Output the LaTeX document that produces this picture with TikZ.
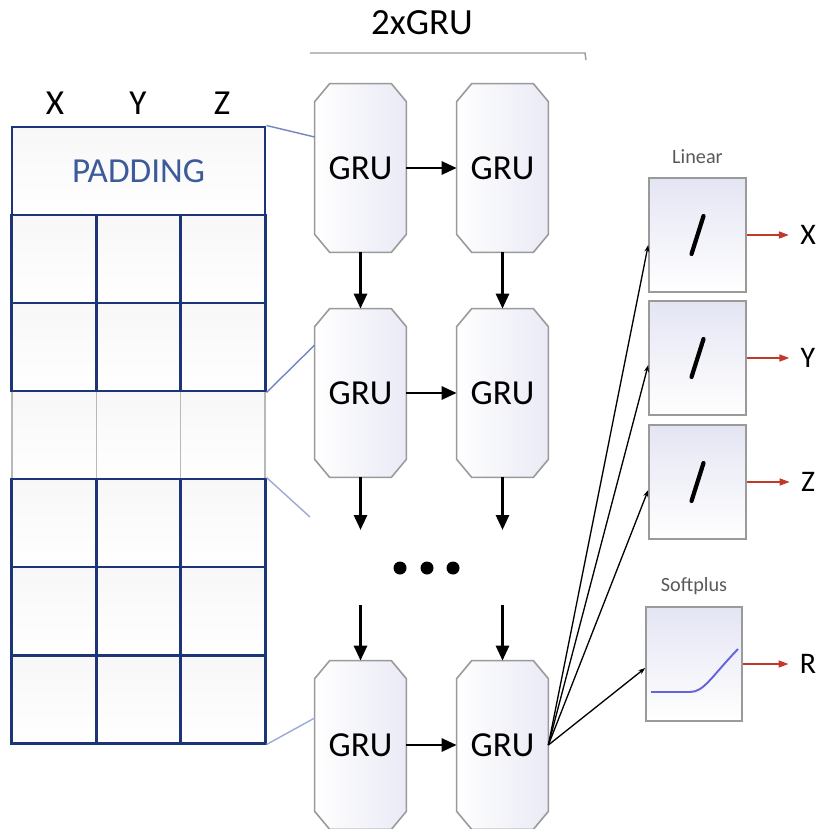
\documentclass[tikz,border=0pt]{standalone}
\usepackage{fontspec}
\setmainfont{Carlito}
\usetikzlibrary{arrows.meta,positioning,backgrounds}
\definecolor{gridblue}{HTML}{1C3578}
\definecolor{padblue}{HTML}{3D5A99}
\definecolor{zoomblue}{HTML}{7384C4}
\definecolor{boxline}{HTML}{9A9A9A}
\definecolor{boxtint}{HTML}{E4E5F3}
\definecolor{outred}{HTML}{C0392B}
\definecolor{curveblue}{HTML}{6464DC}

\begin{document}
\begin{tikzpicture}[
  cell/.style={draw=gridblue,line width=1.7pt,minimum width=1.687cm,minimum height=1.76cm,inner sep=0pt,top color=blue!3!gray!6,bottom color=white},
  graycell/.style={cell,draw=gray!55,line width=0.8pt},
  gru/.style={rectangle,minimum width=1.82cm,minimum height=3.36cm,inner sep=0pt,font=\fontsize{20}{24}\selectfont},
  grubox/.style={draw=boxline,line width=0.9pt,left color=white,right color=boxtint!80},
  actbox/.style={draw=boxline,line width=0.9pt,top color=boxtint,bottom color=white,minimum width=1.94cm,minimum height=2.28cm,inner sep=0pt},
  biglbl/.style={font=\fontsize{20}{24}\selectfont},
  outlbl/.style={font=\fontsize{17}{20}\selectfont,inner xsep=0.22cm,inner ysep=0pt},
  boxtitle/.style={font=\fontsize{11.5}{13}\selectfont,text=gray!70!black,inner sep=0pt},
  flow/.style={-{Triangle[length=0.30cm,width=0.26cm]},line width=1.6pt},
  outarrow/.style={-{Triangle[length=0.2cm,width=0.14cm]},draw=outred,line width=0.9pt},
  feed/.style={-{Stealth[length=0.14cm,width=0.1cm]},line width=0.75pt},
  zoomline/.style={draw=zoomblue,line width=0.8pt},
  slash/.style={line width=2.4pt,line cap=round}
]
\useasboundingbox (0,0) rectangle (16.40,-16.58);

\node[biglbl] (colX) at (1.100,-2.060) {X};
\node[biglbl] (colY) at (2.760,-2.060) {Y};
\node[biglbl] (colZ) at (4.440,-2.060) {Z};

\node[graycell] (c41) at (1.083,-8.700) {};
\node[graycell] (c42) at (2.770,-8.700) {};
\node[graycell] (c43) at (4.457,-8.700) {};
\node[cell,minimum width=5.06cm,text=padblue,font=\fontsize{20}{24}\selectfont] (pad) at (2.770,-3.420) {PADDING};
\node[cell] (c21) at (1.083,-5.180) {};
\node[cell] (c22) at (2.770,-5.180) {};
\node[cell] (c23) at (4.457,-5.180) {};
\node[cell] (c31) at (1.083,-6.940) {};
\node[cell] (c32) at (2.770,-6.940) {};
\node[cell] (c33) at (4.457,-6.940) {};
\node[cell] (c51) at (1.083,-10.460) {};
\node[cell] (c52) at (2.770,-10.460) {};
\node[cell] (c53) at (4.457,-10.460) {};
\node[cell] (c61) at (1.083,-12.220) {};
\node[cell] (c62) at (2.770,-12.220) {};
\node[cell] (c63) at (4.457,-12.220) {};
\node[cell] (c71) at (1.083,-13.980) {};
\node[cell] (c72) at (2.770,-13.980) {};
\node[cell] (c73) at (4.457,-13.980) {};

\node[font=\fontsize{21}{25}\selectfont] (hdr) at (8.440,-0.460) {2xGRU};
\draw[boxline,line width=0.8pt] (6.200,-1.060) -- (11.700,-1.060) -- (11.720,-1.200);

\node[gru] (gru11) at (7.210,-3.360) {GRU};
\node[gru] (gru12) at (10.050,-3.360) {GRU};
\node[gru] (gru21) at (7.210,-7.860) {GRU};
\node[gru] (gru22) at (10.050,-7.860) {GRU};
\node[gru] (gru31) at (7.210,-14.900) {GRU};
\node[gru] (gru32) at (10.050,-14.900) {GRU};
\begin{scope}[on background layer]
\foreach \g in {gru11,gru12,gru21,gru22,gru31,gru32}
  \draw[grubox] ([xshift=0.30cm]\g.north west) -- ([xshift=-0.30cm]\g.north east) -- ([yshift=-0.36cm]\g.north east) -- ([yshift=0.36cm]\g.south east) -- ([xshift=-0.30cm]\g.south east) -- ([xshift=0.30cm]\g.south west) -- ([yshift=0.36cm]\g.south west) -- ([yshift=-0.36cm]\g.north west) -- cycle;
\end{scope}
\coordinate (gap1a) at (7.210,-10.600);
\coordinate (gap2a) at (10.050,-10.600);
\coordinate (gap1b) at (7.210,-12.100);
\coordinate (gap2b) at (10.050,-12.100);
\coordinate (zoomend) at (6.200,-10.340);

\fill (8.000,-11.360) circle (0.13);
\fill (8.540,-11.360) circle (0.13);
\fill (9.060,-11.360) circle (0.13);

\draw[flow] (gru11) -- (gru12);
\draw[flow] (gru21) -- (gru22);
\draw[flow] (gru31) -- (gru32);
\draw[flow] (gru11) -- (gru21);
\draw[flow] (gru12) -- (gru22);
\draw[flow] (gru21) -- (gap1a);
\draw[flow] (gru22) -- (gap2a);
\draw[flow] (gap1b) -- (gru31);
\draw[flow] (gap2b) -- (gru32);

\draw[zoomline] (pad.north east) -- ([yshift=0.62cm]gru11.west);
\draw[zoomline] (c33.south east) -- ([yshift=0.96cm]gru21.west);
\draw[zoomline,draw=zoomblue!70] (c53.north east) -- (zoomend);
\draw[zoomline,draw=zoomblue!70] (c73.south east) -- ([yshift=0.54cm]gru31.west);

\node[actbox] (lin1) at (13.950,-4.700) {};
\node[actbox] (lin2) at (13.950,-7.160) {};
\node[actbox] (lin3) at (13.950,-9.640) {};
\node[actbox,minimum width=1.92cm] (soft) at (13.880,-13.280) {};
\node[boxtitle,above=0.26cm of lin1] (linT) {Linear};
\node[boxtitle,above=0.22cm of soft] (softT) {Softplus};

\draw[slash] ([shift={(-0.12,-0.38)}]lin1.center) -- ([shift={(0.12,0.38)}]lin1.center);
\draw[slash] ([shift={(-0.12,-0.38)}]lin2.center) -- ([shift={(0.12,0.38)}]lin2.center);
\draw[slash] ([shift={(-0.12,-0.38)}]lin3.center) -- ([shift={(0.12,0.38)}]lin3.center);
\draw[curveblue,line width=1.1pt,shift={(soft.center)}] (-0.860,-0.560) -- (-0.080,-0.560) .. controls (0.200,-0.560) and (0.350,-0.250) .. (0.880,0.300);

\node[outlbl] (outX) at (16.160,-4.700) {X};
\node[outlbl] (outY) at (16.160,-7.160) {Y};
\node[outlbl] (outZ) at (16.160,-9.640) {Z};
\node[outlbl] (outR) at (16.160,-13.280) {R};
\draw[outarrow] (lin1) -- (outX);
\draw[outarrow] (lin2) -- (outY);
\draw[outarrow] (lin3) -- (outZ);
\draw[outarrow] (soft) -- (outR);

\draw[feed] (gru32.east) -- ([yshift=-0.20cm]lin1.west);
\draw[feed] (gru32.east) -- ([yshift=-0.14cm]lin2.west);
\draw[feed] (gru32.east) -- ([yshift=-0.16cm]lin3.west);
\draw[feed] (gru32.east) -- ([yshift=-0.08cm]soft.west);
\end{tikzpicture}
\end{document}
